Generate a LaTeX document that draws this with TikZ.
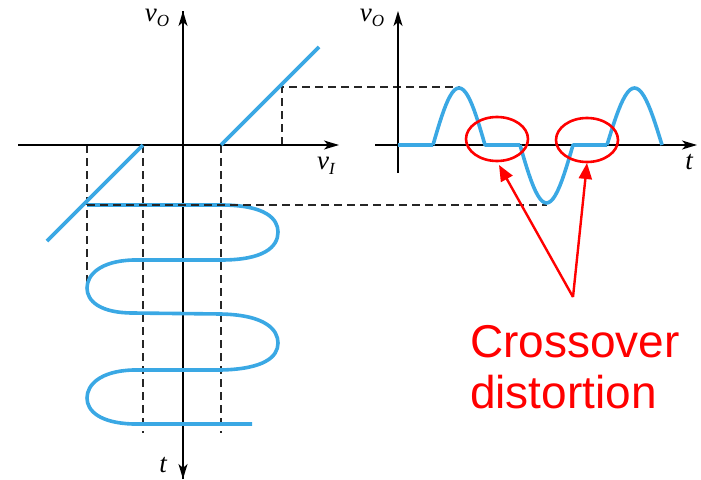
\documentclass[tikz,border=0pt]{standalone}
\usepackage{fontspec}
\newfontfamily\labelsans{Liberation Sans}
\newfontfamily\labelserif{Liberation Serif}
\usetikzlibrary{arrows.meta,shapes.geometric}
\definecolor{wave}{RGB}{58,168,228}
\newcommand{\sublab}[1]{\raisebox{-5pt}{\fontsize{17}{17}\selectfont #1}}
\tikzset{
  axis/.style={line width=1.3pt,-{Stealth[length=15pt,width=9pt,inset=4pt]}},
  guide/.style={line width=1.2pt,dash pattern=on 8pt off 5pt,black!85},
  signal/.style={line width=3.6pt,wave,line join=round},
  ring/.style={ellipse,draw=red,line width=2.6pt,minimum width=62pt,minimum height=44pt,inner sep=0pt},
  pointer/.style={red,line width=2.4pt,-{Triangle[length=16pt,width=13pt]}},
  lab/.style={font=\labelserif\itshape\fontsize{27}{29}\selectfont,inner sep=0pt}
}
\begin{document}
\begin{tikzpicture}[x=1pt,y=-1pt]
\useasboundingbox (0,0) rectangle (701,479);
% coordinates
\coordinate (xl) at (18,145);
\coordinate (xr) at (339,145);
\coordinate (yt) at (183,11);
\coordinate (yb) at (183,479);
\coordinate (rxl) at (375,145);
\coordinate (rxr) at (697,145);
\coordinate (ryt) at (398,11);
\coordinate (ryb) at (398,173);
% guides
\draw[guide] (87,145) -- (87,288);
\draw[guide] (143,145) -- (143,433);
\draw[guide] (221,145) -- (221,433);
\draw[guide] (282,145) -- (282,87) -- (460,87);
% axes
\draw[axis] (xl) -- (xr);
\draw[axis] (yt) -- (yb);
\draw[axis] (yb) -- (yt);
\draw[axis] (rxl) -- (rxr);
\draw[axis] (ryb) -- (ryt);
% labels
\node[lab] (lvo) at (157,18) {v\sublab{O}};
\node[lab] (lvi) at (326,166) {v\sublab{I}};
\node[lab] (lt) at (163,465) {t};
\node[lab] (rvo) at (372,18) {v\sublab{O}};
\node[lab] (rt) at (689,162) {t};
% transfer characteristic
\draw[signal] (47,241) -- (143,145);
\draw[signal] (221,145) -- (319,47);
% input sine along t
\draw[signal] (87,205) -- (221,205)
  .. controls (266,205) and (278,219) .. (278,232)
  .. controls (278,247) and (264,260) .. (221,260) -- (133,260)
  .. controls (100,261) and (87,275) .. (87,288)
  .. controls (87,301) and (100,313) .. (133,313) -- (221,314)
  .. controls (266,315) and (278,330) .. (278,343)
  .. controls (278,357) and (264,369) .. (221,370) -- (133,370)
  .. controls (100,371) and (87,385) .. (87,398)
  .. controls (87,411) and (100,423) .. (133,424) -- (252,424);
\draw[guide] (87,205) -- (547,205);
% output waveform
\draw[signal] (398,145) -- (433,145)
  plot[domain=0:180,samples=25] ({433+52*\x/180},{145-57*sin(\x)})
  -- (520,145)
  plot[domain=0:180,samples=25] ({520+53*\x/180},{145+58*sin(\x)})
  -- (607,145)
  plot[domain=0:180,samples=25] ({607+55*\x/180},{145-57*sin(\x)});
% crossover marks
\node[ring] (e1) at (497,139) {};
\node[ring] (e2) at (587,140) {};
\coordinate (src) at (573,297);
\coordinate (tip1) at (499,165);
\coordinate (tip2) at (587,163);
\draw[pointer] (src) -- (tip1);
\draw[pointer] (src) -- (tip2);
\node[red,anchor=base west,align=left,inner sep=0pt,font=\labelsans\fontsize{46}{51}\selectfont] (txt) at (470,408) {Crossover\\distortion};
\end{tikzpicture}
\end{document}
